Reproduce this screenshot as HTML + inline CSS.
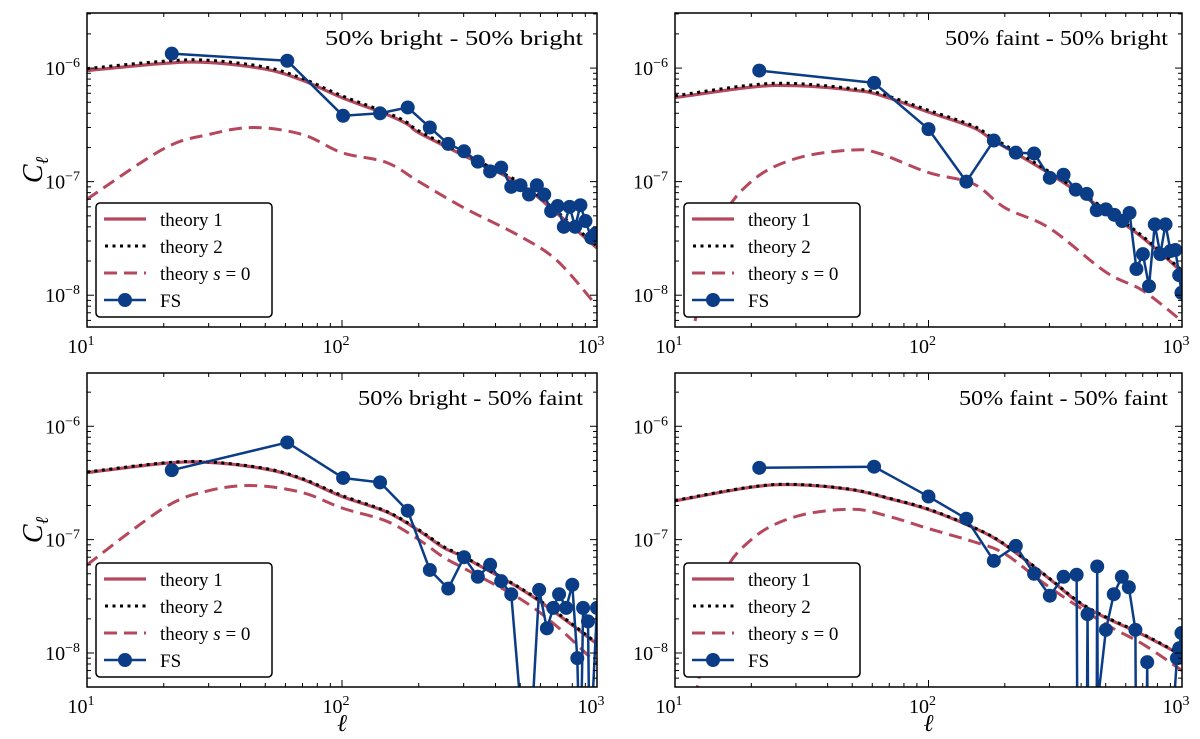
<!DOCTYPE html>
<html><head><meta charset="utf-8"><style>
html,body{margin:0;padding:0;background:#fff;overflow:hidden;width:1200px;height:739px;}
svg{display:block;}
svg text{font-family:"Liberation Serif","DejaVu Serif",serif;fill:#000;}
</style></head><body>
<svg id="chart" width="1200" height="739" xmlns="http://www.w3.org/2000/svg"></svg>
<script>
// ---------- data ----------
const tlT1Ell=[10,20,30,50,70,100,150,181,200,300,500,700,1000];
const tlT1Val=[9.5e-7,1.1e-6,1.12e-6,9.8e-7,7.8e-7,5.5e-7,3.9e-7,3.2e-7,2.7e-7,1.7e-7,9.5e-8,5.2e-8,2.6e-8];
const tlT2Val=[9.9e-7,1.15e-6,1.17e-6,1.02e-6,8.1e-7,5.7e-7,4.05e-7,3.3e-7,2.8e-7,1.75e-7,9.8e-8,5.4e-8,2.7e-8];
const tlS0Ell=[10,20,30,45,70,100,150,200,300,500,700,1000];
const tlS0Val=[7e-8,1.95e-7,2.6e-7,3e-7,2.6e-7,1.8e-7,1.47e-7,1e-7,5.9e-8,3.3e-8,2e-8,8e-9];
const tlFSEll=[21.5,61,101,141,181,221,261,301,341,381,421,461,501,541,581,621,661,701,741,781,821,861,901,950,990];
const tlFSVal=[1.34e-6,1.16e-6,3.8e-7,4e-7,4.5e-7,3e-7,2.15e-7,1.85e-7,1.5e-7,1.23e-7,1.33e-7,9e-8,9.3e-8,7.7e-8,9.3e-8,7.7e-8,5.5e-8,6.1e-8,4e-8,6e-8,4e-8,6.2e-8,4.5e-8,3.2e-8,3.5e-8];

const trT1Ell=[10,20,30,50,64,100,150,181,300,500,700,1000];
const trT1Val=[5.5e-7,6.8e-7,7e-7,6.4e-7,5.8e-7,4.1e-7,3e-7,2.3e-7,1.18e-7,5.5e-8,3.2e-8,1.6e-8];
const trT2Val=[5.7e-7,7.1e-7,7.3e-7,6.6e-7,6e-7,4.25e-7,3.1e-7,2.4e-7,1.22e-7,5.7e-8,3.3e-8,1.65e-8];
const trS0Ell=[11.5,15,20,30,50,64,100,150,200,300,500,700,1000];
const trS0Val=[4e-9,4e-8,1e-7,1.6e-7,1.9e-7,1.77e-7,1.2e-7,9.6e-8,5.9e-8,3.9e-8,1.6e-8,1.1e-8,5.9e-9];
const trFSEll=[21.5,61,100,141,181,221,261,301,341,381,421,461,501,541,581,621,661,701,741,781,821,861,901,941,975,995];
const trFSVal=[9.5e-7,7.4e-7,2.9e-7,1e-7,2.3e-7,1.8e-7,1.77e-7,1.08e-7,1.15e-7,8.5e-8,7.8e-8,5.6e-8,5.7e-8,5.1e-8,4.5e-8,5.3e-8,1.7e-8,2.3e-8,1.2e-8,4.2e-8,2.3e-8,4.2e-8,2.45e-8,2.5e-8,1.5e-8,1.05e-8];

const blT1Ell=[10,20,30,50,70,100,150,200,250,300,500,700,1000];
const blT1Val=[3.9e-7,4.7e-7,4.8e-7,4.2e-7,3.4e-7,2.4e-7,1.75e-7,1.2e-7,8.5e-8,7e-8,3.7e-8,2.2e-8,1.2e-8];
const blT2Val=[3.95e-7,4.75e-7,4.85e-7,4.25e-7,3.45e-7,2.45e-7,1.77e-7,1.22e-7,8.7e-8,7.1e-8,3.75e-8,2.25e-8,1.22e-8];
const blS0Ell=[10,20,30,45,70,100,150,200,250,300,500,700,1000];
const blS0Val=[6e-8,1.9e-7,2.7e-7,3e-7,2.6e-7,1.9e-7,1.45e-7,1e-7,7e-8,5.6e-8,3e-8,1.7e-8,8e-9];
const blFSEll=[21.5,61,101,141,181,221,261,301,341,381,421,461,500,560,593,636,674,710,757,800,837,845,870,882,922,930,960,1000];
const blFSVal=[4.1e-7,7.2e-7,3.5e-7,3.2e-7,1.8e-7,5.4e-8,3.7e-8,7e-8,4.7e-8,6e-8,4.3e-8,3.3e-8,-1,-1,3.6e-8,1.65e-8,2.5e-8,3.3e-8,2.5e-8,4e-8,9e-9,-1,-1,2.5e-8,1.9e-8,-1,-1,2.5e-8];

const brT1Ell=[10,20,30,50,70,100,150,200,300,390,500,700,1000];
const brT1Val=[2.2e-7,2.9e-7,3.05e-7,2.75e-7,2.3e-7,1.84e-7,1.28e-7,9e-8,4.5e-8,2.8e-8,2.05e-8,1.45e-8,9.5e-9];
const brT2Val=[2.22e-7,2.92e-7,3.07e-7,2.77e-7,2.32e-7,1.86e-7,1.29e-7,9.1e-8,4.55e-8,2.85e-8,2.08e-8,1.47e-8,9.6e-9];
const brS0Ell=[12,15,20,30,50,70,100,150,200,300,500,700,1000];
const brS0Val=[4e-9,4e-8,1e-7,1.6e-7,1.85e-7,1.6e-7,1.25e-7,9.6e-8,7.5e-8,3.8e-8,1.8e-8,1.2e-8,7e-9];
const brFSEll=[21.5,61,100,141,181,221,261,301,341,384,386,422,424,426,461,463,465,501,538,579,617,655,657,727,729,731,930,955,975,995];
const brFSVal=[4.3e-7,4.4e-7,2.4e-7,1.53e-7,6.5e-8,8.8e-8,5e-8,3.2e-8,4.7e-8,4.9e-8,-1,-1,2.2e-8,-1,-1,5.8e-8,-1,1.6e-8,3.3e-8,4.7e-8,3.8e-8,1.6e-8,-1,-1,8.3e-9,-1,-1,9e-9,1.1e-8,1.5e-8];

const yTickExp=[-6,-7,-8];
const xTickExp=[1,2,3];
const panelTitles=["50% bright - 50% bright","50% faint - 50% bright","50% bright - 50% faint","50% faint - 50% faint"];
const titleWidths=[258,223,225,209];

// ---------- drawing ----------
const NS="http://www.w3.org/2000/svg";
const svg=document.getElementById('chart');
function mk(tag,attrs,parent){const e=document.createElementNS(NS,tag);for(const k in attrs)e.setAttribute(k,attrs[k]);(parent||svg).appendChild(e);return e;}
const RED="#b5485c",BLUE="#0b3d87";
const panels=[
 {x0:87,x1:597,y0:13,y1:327,yTop:-5.515,yBot:-8.28,t1e:tlT1Ell,t1:tlT1Val,t2:tlT2Val,se:tlS0Ell,s:tlS0Val,fe:tlFSEll,f:tlFSVal,key:'top-left',ylab:true,xlab:false},
 {x0:675,x1:1182,y0:13,y1:327,yTop:-5.515,yBot:-8.28,t1e:trT1Ell,t1:trT1Val,t2:trT2Val,se:trS0Ell,s:trS0Val,fe:trFSEll,f:trFSVal,key:'top-right',ylab:false,xlab:false},
 {x0:87,x1:597,y0:373,y1:687,yTop:-5.53,yBot:-8.3,t1e:blT1Ell,t1:blT1Val,t2:blT2Val,se:blS0Ell,s:blS0Val,fe:blFSEll,f:blFSVal,key:'bottom-left',ylab:true,xlab:true},
 {x0:675,x1:1182,y0:373,y1:687,yTop:-5.53,yBot:-8.3,t1e:brT1Ell,t1:brT1Val,t2:brT2Val,se:brS0Ell,s:brS0Val,fe:brFSEll,f:brFSVal,key:'bottom-right',ylab:false,xlab:true}
];
function smoothPath(pts){
  let d="M"+pts[0][0].toFixed(1)+","+pts[0][1].toFixed(1);
  for(let i=0;i<pts.length-1;i++){
    const p0=pts[Math.max(0,i-1)],p1=pts[i],p2=pts[i+1],p3=pts[Math.min(pts.length-1,i+2)];
    const c1=[p1[0]+(p2[0]-p0[0])/6,p1[1]+(p2[1]-p0[1])/6];
    const c2=[p2[0]-(p3[0]-p1[0])/6,p2[1]-(p3[1]-p1[1])/6];
    d+="C"+c1.map(v=>v.toFixed(1))+" "+c2.map(v=>v.toFixed(1))+" "+p2[0].toFixed(1)+","+p2[1].toFixed(1);
  }
  return d;
}
panels.forEach((p,pi)=>{
  const xs=l=>p.x0+(Math.log10(l)-1)/2*(p.x1-p.x0);
  const ys=v=>{if(!(v>0))return p.y1+15;const y=p.y0+(p.yTop-Math.log10(v))/(p.yTop-p.yBot)*(p.y1-p.y0);return Math.min(y,p.y1+15);};
  const g=mk('g',{});
  
  
  const cid='clip'+pi;
  const cp=mk('clipPath',{id:cid},g);mk('rect',{x:p.x0,y:p.y0,width:p.x1-p.x0,height:p.y1-p.y0},cp);
  const plot=mk('g',{'clip-path':'url(#'+cid+')'},g);
  let e=mk('path',{d:smoothPath(p.se.map((l,i)=>[xs(l),ys(p.s[i])])),fill:'none',stroke:RED,'stroke-width':3,'stroke-dasharray':'13,7'},plot);
  
  
  e=mk('path',{d:smoothPath(p.t1e.map((l,i)=>[xs(l),ys(p.t1[i])])),fill:'none',stroke:RED,'stroke-width':3.2},plot);
  
  
  e=mk('path',{d:smoothPath(p.t1e.map((l,i)=>[xs(l),ys(p.t2[i])])),fill:'none',stroke:'#000','stroke-width':3,'stroke-dasharray':'3,4.5'},plot);
  
  
  const fp=p.fe.map((l,i)=>[xs(l),ys(p.f[i])]);
  e=mk('polyline',{points:fp.map(q=>q.join(',')).join(' '),fill:'none',stroke:BLUE,'stroke-width':2.5,'stroke-linejoin':'round'},plot);
  
  
  fp.forEach((q,i)=>{if(p.f[i]>0){const c=mk('circle',{cx:q[0],cy:q[1],r:7,fill:BLUE},plot);
    
    }});
  e=mk('rect',{x:p.x0,y:p.y0,width:p.x1-p.x0,height:p.y1-p.y0,fill:'none',stroke:'#000','stroke-width':1.5},g);
  
  
  for(let dec=1;dec<=3;dec++){for(let m=1;m<10;m++){const l=m*Math.pow(10,dec);if(l>1000)break;const x=xs(l);const len=m===1?7:4;
    mk('line',{x1:x,x2:x,y1:p.y1,y2:p.y1-len,stroke:'#000','stroke-width':1},g);
    mk('line',{x1:x,x2:x,y1:p.y0,y2:p.y0+len,stroke:'#000','stroke-width':1},g);}}
  xTickExp.forEach(ex=>{const t=mk('text',{x:xs(Math.pow(10,ex))-6,y:p.y1+26,'font-size':20,'text-anchor':'middle'},g);
    
    
    t.innerHTML='10<tspan dy="-8" font-size="14">'+ex+'</tspan>';});
  for(let dec=-9;dec<=-5;dec++){for(let m=1;m<10;m++){const v=m*Math.pow(10,dec);const lv=Math.log10(v);if(lv>p.yTop||lv<p.yBot)continue;const y=ys(v);const len=m===1?7:4;
    mk('line',{x1:p.x0,x2:p.x0+len,y1:y,y2:y,stroke:'#000','stroke-width':1},g);
    mk('line',{x1:p.x1,x2:p.x1-len,y1:y,y2:y,stroke:'#000','stroke-width':1},g);}}
  yTickExp.forEach(ex=>{const t=mk('text',{x:p.x0-7,y:ys(Math.pow(10,ex))+7,'font-size':20,'text-anchor':'end'},g);
    
    
    t.innerHTML='10<tspan dy="-8" font-size="14">\u2212'+(-ex)+'</tspan>';});
  let t=mk('text',{x:p.x1-14,y:p.y0+32,'font-size':21,'text-anchor':'end',textLength:titleWidths[pi],lengthAdjust:'spacingAndGlyphs'},g);
  
  
  t.textContent=panelTitles[pi];
  if(p.ylab){t=mk('text',{x:0,y:0,'font-size':28,'font-style':'italic',transform:'translate(42,'+((p.y0+p.y1)/2)+') rotate(-90)','text-anchor':'middle'},g);
    
    
    t.innerHTML='C<tspan dy="6" font-size="18">\u2113</tspan>';}
  if(p.xlab){t=mk('text',{x:(p.x0+p.x1)/2,y:731,'font-size':24,'font-style':'italic','text-anchor':'middle'},g);
    
    
    t.textContent='\u2113';}
  const lx=p.x0+9,ly=p.y1-124;
  const lg=mk('g',{},g);
  
  
  mk('rect',{x:lx,y:ly,width:176,height:114,rx:4,fill:'#fff',stroke:'#000','stroke-width':1.5},lg);
  const rows=[['theory 1','solid'],['theory 2','dot'],['theory s = 0','dash'],['FS','fs']];
  rows.forEach((r,i)=>{const yy=ly+16+i*27;const it=mk('g',{},lg);
    
    
    if(r[1]==='solid')mk('line',{x1:lx+8,x2:lx+50,y1:yy,y2:yy,stroke:RED,'stroke-width':3.2},it);
    if(r[1]==='dot')mk('line',{x1:lx+9,x2:lx+50,y1:yy,y2:yy,stroke:'#000','stroke-width':3,'stroke-dasharray':'3,4.5'},it);
    if(r[1]==='dash')mk('line',{x1:lx+8,x2:lx+50,y1:yy,y2:yy,stroke:RED,'stroke-width':3,'stroke-dasharray':'13,7'},it);
    if(r[1]==='fs'){mk('line',{x1:lx+8,x2:lx+50,y1:yy,y2:yy,stroke:BLUE,'stroke-width':2.5},it);mk('circle',{cx:lx+29,cy:yy,r:7,fill:BLUE},it);}
    const tt=mk('text',{x:lx+64,y:yy+7,'font-size':19},it);
    if(r[1]==='dash')tt.innerHTML='theory <tspan font-style="italic">s</tspan> = 0';else tt.textContent=r[0];});
});
</script>
</body></html>
